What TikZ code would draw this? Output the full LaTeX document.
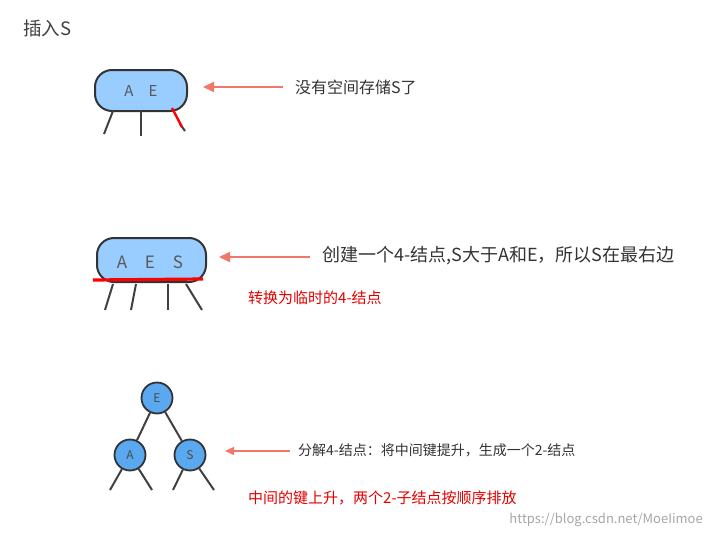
\documentclass[tikz,border=0pt]{standalone}
\usepackage{fontspec}
\setmainfont{Noto Sans CJK SC}
\usetikzlibrary{arrows.meta}
\definecolor{fillb}{HTML}{99CCFF}
\definecolor{fillc}{HTML}{5AA8F0}
\definecolor{arr}{HTML}{F07868}
\begin{document}
\begin{tikzpicture}[x=1pt,y=-1pt,
  keybox/.style={draw=black!80,line width=2pt,fill=fillb,rounded corners=17pt},
  keyc/.style={circle,draw=black!80,line width=1.8pt,fill=fillc,minimum size=31pt,inner sep=0pt,font=\fontsize{12}{12}\selectfont,text=black!70},
  leg/.style={draw=black!75,line width=2pt},
  parr/.style={draw=arr,line width=2pt,-{Triangle[length=11pt,width=10pt]}},
  lbl/.style={anchor=west,text=black!80,inner sep=0pt},
  redt/.style={anchor=west,text=red!90!black,inner sep=0pt,font=\fontsize{15}{15}\selectfont},
  ktxt/.style={text=black!65,inner sep=0pt}]
\useasboundingbox (0,0) rectangle (710,538);
\node[anchor=west,inner sep=0pt,text=black!75,font=\fontsize{18.5}{18.5}\selectfont] (title) at (23,28) {插入S};
% node 1
\draw[keybox] (95,70) rectangle (187,111);
\node[ktxt,font=\fontsize{15}{15}\selectfont] (a1) at (129,91) {A};
\node[ktxt,font=\fontsize{15}{15}\selectfont] (e1) at (153,91) {E};
\draw[leg] (113,111) -- (104,134);
\draw[leg] (141,111) -- (141,136);
\draw[leg] (180,124) -- (185,131);
\draw[draw=red,line width=2.4pt] (172,108) -- (182,127);
\coordinate (t1) at (283,87); \coordinate (h1) at (203,87);
\draw[parr] (t1) -- (h1);
\node[lbl,font=\fontsize{16}{16}\selectfont] (l1) at (295,87) {没有空间存储S了};
% node 2
\draw[keybox] (97,238) rectangle (206,282);
\node[ktxt,font=\fontsize{17}{17}\selectfont] (a2) at (122,262) {A};
\node[ktxt,font=\fontsize{17}{17}\selectfont] (e2) at (150,262) {E};
\node[ktxt,font=\fontsize{17}{17}\selectfont] (s2) at (178,262) {S};
\draw[leg] (113,284) -- (105,310);
\draw[leg] (136,284) -- (131,310);
\draw[leg] (168,284) -- (168,310);
\draw[leg] (186,284) -- (202,310);
\draw[draw=red,line width=3.2pt] (93,280) -- (203,279);
\coordinate (t2) at (310,257); \coordinate (h2) at (219,257);
\draw[parr] (t2) -- (h2);
\node[lbl,font=\fontsize{18}{18}\selectfont] (l2) at (322,256) {创建一个4-结点,S大于A和E，所以S在最右边};
\node[redt] (r2) at (248,298) {转换为临时的4-结点};
% tree
\node[keyc] (E) at (157,398) {E};
\node[keyc] (A) at (130,455) {A};
\node[keyc] (S) at (190,455) {S};
\draw[leg] (E) -- (A); \draw[leg] (E) -- (S);
\coordinate (a3l) at (110,490); \coordinate (a3r) at (152,490);
\coordinate (s3l) at (173,490); \coordinate (s3r) at (214,490);
\draw[leg] (A) -- (a3l); \draw[leg] (A) -- (a3r);
\draw[leg] (S) -- (s3l); \draw[leg] (S) -- (s3r);
\coordinate (t3) at (290,451); \coordinate (h3) at (225,451);
\draw[parr,line width=1.4pt,-{Triangle[length=9pt,width=8pt]}] (t3) -- (h3);
\node[lbl,font=\fontsize{14}{14}\selectfont] (l3) at (298,450) {分解4-结点：将中间键提升，生成一个2-结点};
\node[redt] (r3) at (248,498) {中间的键上升，两个2-子结点按顺序排放};
\node[anchor=east,inner sep=0pt,text=black!35,font=\fontsize{13}{13}\selectfont] (wm) at (703,520) {https://blog.csdn.net/MoeIimoe};
\end{tikzpicture}
\end{document}
